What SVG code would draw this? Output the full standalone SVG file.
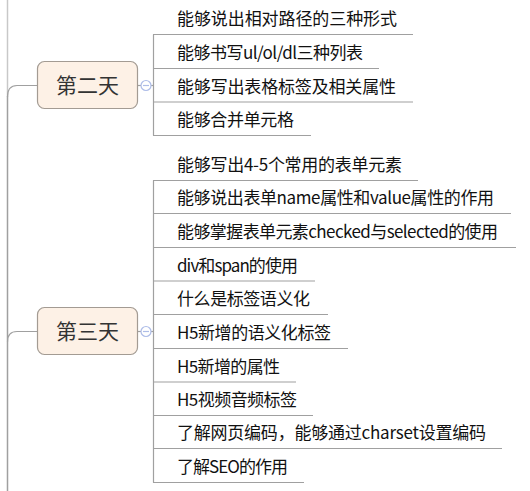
<svg xmlns="http://www.w3.org/2000/svg" width="530" height="491" viewBox="0 0 530 491">
<style>
.bg{fill:#ffffff}
.node rect{fill:#fdf1e6;stroke:#a39b93;stroke-width:1.2}
.node text{font-family:"Noto Sans CJK SC","Noto Sans",sans-serif;font-size:21px;fill:#333333;text-anchor:middle}
.leaf text{font-family:"Noto Sans CJK SC","Noto Sans",sans-serif;font-size:17px;fill:#111111}
.ul{stroke:#a0a0a0;stroke-width:1.2;fill:none}
.con{stroke:#a0a0a0;stroke-width:1.2;fill:none}
.col{fill:#ffffff;stroke:#aebde8;stroke-width:1.2}
</style>
<rect class="bg" x="0" y="0" width="530" height="491"/>
<g id="connectors">
  <line x1="7.5" y1="0" x2="7.5" y2="96" stroke="#c8c8c8" stroke-width="1.5"/>
  <line x1="7.5" y1="96" x2="7.5" y2="491" stroke="#a0a0a0" stroke-width="1.5"/>
  <path class="con" d="M7.5,97 Q7.5,85.5 17,85.5 L37,85.5"/>
  <path class="con" d="M7.5,342 Q7.5,331.5 17,331.5 L37,331.5"/>
  <line class="con" x1="138" y1="85.5" x2="141" y2="85.5"/>
  <line class="con" x1="151" y1="85.5" x2="153.5" y2="85.5"/>
  <line class="con" x1="138" y1="331.5" x2="141" y2="331.5"/>
  <line class="con" x1="151" y1="331.5" x2="153.5" y2="331.5"/>
  <line class="con" x1="153.5" y1="34.5" x2="153.5" y2="135.5"/>
  <line class="con" x1="153.5" y1="180.5" x2="153.5" y2="482.5"/>
  <circle class="col" cx="146" cy="85.5" r="5"/>
  <line x1="143" y1="85.5" x2="149" y2="85.5" stroke="#aebde8" stroke-width="1.2"/>
  <circle class="col" cx="146" cy="331.5" r="5"/>
  <line x1="143" y1="331.5" x2="149" y2="331.5" stroke="#aebde8" stroke-width="1.2"/>
</g>
<g id="day2" class="node">
  <rect x="37.5" y="61.5" width="100" height="47" rx="7"/>
  <text x="87.5" y="92.5">第二天</text>
</g>
<g id="day3" class="node">
  <rect x="37.5" y="307.5" width="100" height="47" rx="7"/>
  <text x="87.5" y="338.5">第三天</text>
</g>
<g id="d2-1" class="leaf"><line class="ul" x1="153" y1="34.5" x2="413" y2="34.5"/><text x="177" y="25" textLength="220" lengthAdjust="spacing">能够说出相对路径的三种形式</text></g>
<g id="d2-2" class="leaf"><line class="ul" x1="153" y1="68.5" x2="379" y2="68.5"/><text x="177" y="59" textLength="186" lengthAdjust="spacing">能够书写ul/ol/dl三种列表</text></g>
<g id="d2-3" class="leaf"><line class="ul" x1="153" y1="102" x2="413" y2="102"/><text x="177" y="92.5" textLength="219" lengthAdjust="spacing">能够写出表格标签及相关属性</text></g>
<g id="d2-4" class="leaf"><line class="ul" x1="153" y1="135.5" x2="311" y2="135.5"/><text x="177" y="126" textLength="117" lengthAdjust="spacing">能够合并单元格</text></g>
<g id="d3-1" class="leaf"><line class="ul" x1="153" y1="180.5" x2="418" y2="180.5"/><text x="177" y="171" textLength="225" lengthAdjust="spacing">能够写出4-5个常用的表单元素</text></g>
<g id="d3-2" class="leaf"><line class="ul" x1="153" y1="213.5" x2="511" y2="213.5"/><text x="177" y="204" textLength="317" lengthAdjust="spacing">能够说出表单name属性和value属性的作用</text></g>
<g id="d3-3" class="leaf"><line class="ul" x1="153" y1="247.5" x2="516" y2="247.5"/><text x="177" y="238" textLength="321" lengthAdjust="spacing">能够掌握表单元素checked与selected的使用</text></g>
<g id="d3-4" class="leaf"><line class="ul" x1="153" y1="281" x2="315" y2="281"/><text x="177" y="271.5" textLength="121" lengthAdjust="spacing">div和span的使用</text></g>
<g id="d3-5" class="leaf"><line class="ul" x1="153" y1="314.5" x2="328" y2="314.5"/><text x="177" y="305" textLength="133" lengthAdjust="spacing">什么是标签语义化</text></g>
<g id="d3-6" class="leaf"><line class="ul" x1="153" y1="348.5" x2="348" y2="348.5"/><text x="177" y="339" textLength="154" lengthAdjust="spacing">H5新增的语义化标签</text></g>
<g id="d3-7" class="leaf"><line class="ul" x1="153" y1="382" x2="296" y2="382"/><text x="177" y="372.5" textLength="103" lengthAdjust="spacing">H5新增的属性</text></g>
<g id="d3-8" class="leaf"><line class="ul" x1="153" y1="415.5" x2="313" y2="415.5"/><text x="177" y="406" textLength="120" lengthAdjust="spacing">H5视频音频标签</text></g>
<g id="d3-9" class="leaf"><line class="ul" x1="153" y1="448.5" x2="502" y2="448.5"/><text x="177" y="439" textLength="309" lengthAdjust="spacing">了解网页编码，能够通过charset设置编码</text></g>
<g id="d3-10" class="leaf"><line class="ul" x1="153" y1="482.5" x2="304" y2="482.5"/><text x="177" y="473" textLength="111" lengthAdjust="spacing">了解SEO的作用</text></g>
</svg>
